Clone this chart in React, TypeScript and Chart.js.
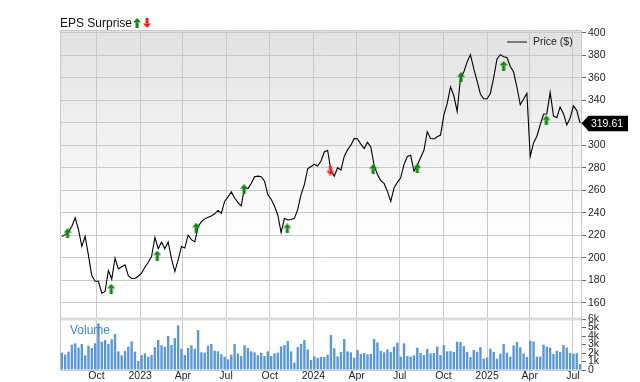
import React, { useEffect, useRef } from "react";
import { Chart, registerables } from "chart.js";

Chart.register(...registerables);

// ---------- data ----------
const ORIGIN = Date.UTC(2022, 9, 1);
const dayOf = (s: string) => (Date.parse(s + "T00:00:00Z") - ORIGIN) / 86400000;

const X_MIN_DATE = "2022-07-16";
const X_MAX_DATE = "2025-07-18";
const FIRST_WEEK = "2022-07-20";

const xTickDates = [
  "2022-10-01", "2023-01-01", "2023-04-01", "2023-07-01", "2023-10-01", "2024-01-01",
  "2024-04-01", "2024-07-01", "2024-10-01", "2025-01-01", "2025-04-01", "2025-07-01",
];
const xTickLabels = ["Oct", "2023", "Apr", "Jul", "Oct", "2024", "Apr", "Jul", "Oct", "2025", "Apr", "Jul"];

const priceTicks = [160, 180, 200, 220, 240, 260, 280, 300, 320, 340, 360, 380, 400];
const volumeTicks = [0, 1, 2, 3, 4, 5, 6];
const PRICE_MIN = 145.5;
const PRICE_MAX = 402.4;
const VOL_MAX = 6;
const LAST_PRICE = 319.61;

const weeklyPrice = [
  218.7, 220.5, 223, 228, 235.5, 225, 210, 219, 202, 184,
  179, 179, 168.5, 170, 188.6, 181, 199.5, 190, 192, 193.6,
  184, 181.5, 181.5, 183.5, 186.5, 191.5, 196, 201, 218, 208,
  214, 208, 214, 199, 187.7, 198, 210, 208.6, 220, 216,
  214, 227.5, 232, 234.5, 236, 237, 239, 242, 239.4, 250,
  254, 258.5, 253, 249, 246, 262.4, 261.5, 266, 272, 272.5,
  272, 268, 256, 252, 246, 238, 222.3, 235, 233.5, 234,
  235, 243, 256, 265, 279, 281, 283, 281.5, 286, 294,
  295.5, 277.5, 272.5, 280, 277.8, 290, 296, 300, 306, 305.5,
  301, 297, 302.5, 298.4, 282, 274, 268.5, 266, 259, 250,
  262, 267, 271, 283, 290, 291, 277, 282, 289, 295.5,
  312, 306, 305.5, 307.5, 309, 327, 337, 352, 344, 330,
  360, 365, 374, 380.5, 368, 357, 345.5, 341.3, 341.3, 346,
  360, 376.7, 380.5, 378.7, 378, 370, 365, 351.5, 336, 341,
  346, 290, 302, 308, 318, 327.5, 328, 347, 326, 324.4,
  334, 328, 318, 324, 335, 331, 319.61,
];

// weekly volume, thousands
const weeklyVolumeK = [
  2.04, 1.8, 2.16, 2.98, 3.14, 2.63, 3.06, 1.73, 2.86, 2.59,
  3.14, 5.49, 3.33, 3.53, 3.06, 3.61, 4.24, 2.2, 1.73, 2.23,
  2.75, 3.37, 2.16, 1.06, 1.76, 1.96, 1.57, 1.76, 2.71, 3.53,
  2.9, 2.75, 4.0, 2.94, 3.76, 5.26, 2.51, 1.76, 2.59, 2.9,
  2.51, 4.7, 2.08, 2.04, 2.86, 3.06, 2.27, 2.2,
  1.84, 1.57, 1.25, 1.8, 3.06, 1.96, 1.65, 2.9, 2.59, 2.2,
  2.08, 1.73, 2.04, 1.65, 2.2, 1.65, 1.96, 2.04, 2.78, 2.94,
  3.41, 2.2, 0.86, 2.71, 3.06, 3.53, 2.43, 1.18, 1.61, 1.41,
  1.53, 1.53, 1.8, 4.12, 2.55, 1.61, 2.12, 3.65, 2.2, 2.08,
  1.45, 2.35, 1.88, 2.0, 1.84, 1.88, 3.65, 3.25, 2.27, 2.08,
  2.43, 2.12, 2.75, 3.22, 1.57, 3.14, 1.65, 1.57, 1.73, 2.63,
  2.0, 1.76, 2.47, 1.96, 2.0, 2.75,
  1.76, 2.94, 2.2, 2.23, 2.12, 3.33, 3.29, 2.82, 2.12, 1.53,
  2.35, 2.16, 2.71, 1.33, 1.45, 2.51, 2.12, 1.33, 1.92, 3.06,
  2.04, 1.57, 2.9, 3.29, 2.67, 1.96, 1.53, 3.45, 3.37, 1.57,
  1.57, 2.98, 2.75, 2.63, 1.88, 2.27, 2.12, 2.94, 2.63, 2.0,
  1.92, 1.96, 0.7,
];

const earningsDates = [
  "2022-08-01", "2022-11-01", "2023-02-06", "2023-04-29", "2023-08-08", "2023-11-07",
  "2024-02-06", "2024-05-06", "2024-08-07", "2024-11-07", "2025-02-05", "2025-05-06",
];
const earningsPrice = [221.7, 172.4, 201.9, 226.7, 260.9, 226, 277.5, 278.7, 279.3, 360.4, 370.5, 322];
const earningsBeat = [true, true, true, true, true, true, false, true, true, true, true, true];

// ---------- styles ----------
const FONT = "'Liberation Sans', Arial, Helvetica, sans-serif";
const GRID = "#c9c9c9";
const UP_COLOR = "#0b860b";
const DOWN_COLOR = "#f21a1a";
const VOL_COLOR = "#5a97d6";

function makeArrow(up: boolean, color: string): HTMLCanvasElement {
  const c = document.createElement("canvas");
  c.width = 8;
  c.height = 10;
  const g = c.getContext("2d")!;
  g.fillStyle = color;
  if (!up) {
    g.translate(0, 10);
    g.scale(1, -1);
  }
  g.beginPath();
  g.moveTo(4, 0);
  g.lineTo(8, 4.5);
  g.lineTo(0, 4.5);
  g.closePath();
  g.fill();
  g.fillRect(2.5, 4.5, 3, 5.5);
  return c;
}

export default function App() {
  const ref = useRef<HTMLCanvasElement>(null);

  useEffect(() => {
    const canvas = ref.current!;
    const upImg = makeArrow(true, UP_COLOR);
    const downImg = makeArrow(false, DOWN_COLOR);
    const firstDay = dayOf(FIRST_WEEK);

    const priceData = weeklyPrice.map((p, i) => ({ x: firstDay + 7 * i, y: p }));
    const volData = weeklyVolumeK.map((v, i) => ({ x: firstDay + 7 * i, y: v }));
    const epsData = earningsDates.map((d, i) => ({ x: dayOf(d), y: earningsPrice[i] }));

    const decorations = {
      id: "decorations",
      beforeDraw(chart: any) {
        const { ctx, chartArea } = chart;
        const y = chart.scales.y;
        ctx.save();
        const grad = ctx.createLinearGradient(0, y.top, 0, y.bottom);
        grad.addColorStop(0, "#e2e2e2");
        grad.addColorStop(0.72, "#ffffff");
        grad.addColorStop(1, "#ffffff");
        ctx.fillStyle = grad;
        ctx.fillRect(chartArea.left, y.top, chartArea.right - chartArea.left, y.bottom - y.top);
        ctx.restore();
      },
      beforeDatasetsDraw(chart: any) {
        const { ctx, chartArea } = chart;
        const y = chart.scales.y;
        ctx.save();
        ctx.fillStyle = "#dcdcdc";
        ctx.fillRect(chartArea.left, y.bottom - 1.5, chartArea.right - chartArea.left, 3);
        ctx.strokeStyle = GRID;
        ctx.lineWidth = 1;
        ctx.beginPath();
        ctx.moveTo(chartArea.left + 0.5, chartArea.bottom);
        ctx.lineTo(chartArea.left + 0.5, chartArea.top + 0.5);
        ctx.lineTo(chartArea.right, chartArea.top + 0.5);
        ctx.stroke();
        ctx.restore();
      },
      afterDraw(chart: any) {
        const { ctx, chartArea } = chart;
        const y = chart.scales.y;
        const yv = chart.scales.yVol;
        ctx.save();
        // title
        ctx.fillStyle = "#111";
        ctx.font = `12px ${FONT}`;
        ctx.textBaseline = "alphabetic";
        ctx.textAlign = "left";
        const title = "EPS Surprise";
        ctx.fillText(title, chartArea.left, 27);
        const tw = ctx.measureText(title).width;
        ctx.drawImage(upImg, chartArea.left + tw + 1, 18);
        ctx.drawImage(downImg, chartArea.left + tw + 11, 18);
        // legend
        ctx.strokeStyle = "#7a7a7a";
        ctx.lineWidth = 2;
        ctx.beginPath();
        ctx.moveTo(507, 42);
        ctx.lineTo(527, 42);
        ctx.stroke();
        ctx.fillStyle = "#222";
        ctx.font = `10.5px ${FONT}`;
        ctx.textBaseline = "middle";
        ctx.fillText("Price ($)", 533, 42);
        // volume label
        ctx.fillStyle = "#3b86c9";
        ctx.font = `12px ${FONT}`;
        ctx.textBaseline = "alphabetic";
        ctx.fillText("Volume", chartArea.left + 10, yv.top + 15);
        // last price tag
        const py = y.getPixelForValue(LAST_PRICE);
        const x0 = chartArea.right + 0.5;
        ctx.fillStyle = "#000";
        ctx.beginPath();
        ctx.moveTo(x0, py);
        ctx.lineTo(x0 + 7, py - 7.5);
        ctx.lineTo(628, py - 7.5);
        ctx.lineTo(628, py + 8);
        ctx.lineTo(x0 + 7, py + 8);
        ctx.closePath();
        ctx.fill();
        ctx.fillStyle = "#fff";
        ctx.font = `10.5px ${FONT}`;
        ctx.textAlign = "center";
        ctx.textBaseline = "middle";
        ctx.fillText(LAST_PRICE.toFixed(2), 607, py + 0.5);
        ctx.restore();
      },
    };

    const chart = new Chart(canvas, {
      type: "line",
      data: {
        datasets: [
          {
            type: "scatter",
            data: epsData,
            yAxisID: "y",
            pointStyle: (c: any) => (earningsBeat[c.dataIndex] ? upImg : downImg),
            pointRadius: 5,
            order: 0,
          } as any,
          {
            type: "line",
            data: priceData,
            yAxisID: "y",
            borderColor: "#000",
            borderWidth: 1.1,
            pointRadius: 0,
            tension: 0,
            order: 1,
          },
          {
            type: "bar",
            data: volData,
            yAxisID: "yVol",
            backgroundColor: VOL_COLOR,
            borderWidth: 0,
            barPercentage: 0.72,
            categoryPercentage: 1,
            order: 2,
          } as any,
        ],
      },
      options: {
        animation: false,
        responsive: false,
        devicePixelRatio: 1,
        layout: { padding: { left: 60, top: 30, right: 0, bottom: 0 } },
        plugins: {
          legend: { display: false },
          tooltip: { enabled: false },
          title: { display: false },
        },
        scales: {
          x: {
            type: "linear",
            position: "bottom",
            offset: false,
            min: dayOf(X_MIN_DATE),
            max: dayOf(X_MAX_DATE),
            afterBuildTicks: (s: any) => {
              s.ticks = xTickDates.map((d) => ({ value: dayOf(d) }));
            },
            afterFit: (s: any) => {
              s.height = 12;
            },
            ticks: {
              autoSkip: false,
              maxRotation: 0,
              padding: 1,
              color: "#222",
              font: { size: 10.5, family: FONT, lineHeight: 1 },
              callback: (_v: any, idx: number) => xTickLabels[idx],
            },
            grid: { color: GRID, drawTicks: false, tickLength: 0, offset: false },
            border: { color: GRID },
          },
          y: {
            type: "linear",
            position: "right",
            stack: "panes",
            stackWeight: 289,
            weight: 0,
            min: PRICE_MIN,
            max: PRICE_MAX,
            afterBuildTicks: (s: any) => {
              s.ticks = priceTicks.map((v) => ({ value: v }));
            },
            afterFit: (s: any) => {
              s.width = 59;
            },
            ticks: {
              autoSkip: false,
              padding: 2,
              color: "#222",
              font: { size: 10.5, family: FONT },
              callback: (v: any) => String(v),
            },
            grid: { color: GRID, tickColor: "#666", tickLength: 5 },
            border: { color: GRID },
          },
          yVol: {
            type: "linear",
            position: "right",
            stack: "panes",
            stackWeight: 51,
            weight: 1,
            min: 0,
            max: VOL_MAX,
            afterBuildTicks: (s: any) => {
              s.ticks = volumeTicks.map((v) => ({ value: v }));
            },
            afterFit: (s: any) => {
              s.width = 59;
            },
            ticks: {
              autoSkip: false,
              padding: 2,
              color: "#222",
              font: { size: 10.5, family: FONT },
              callback: (v: any) => (v === 0 ? "0" : `${v}k`),
            },
            grid: { drawOnChartArea: false, tickColor: "#666", tickLength: 5 },
            border: { color: GRID },
          },
        },
      } as any,
      plugins: [decorations],
    });

    return () => chart.destroy();
  }, []);

  return (
    <div style={{ position: "fixed", left: 0, top: 0, width: 640, height: 382, background: "#fff" }}>
      <canvas ref={ref} width={640} height={382} style={{ display: "block", width: 640, height: 382 }} />
    </div>
  );
}
